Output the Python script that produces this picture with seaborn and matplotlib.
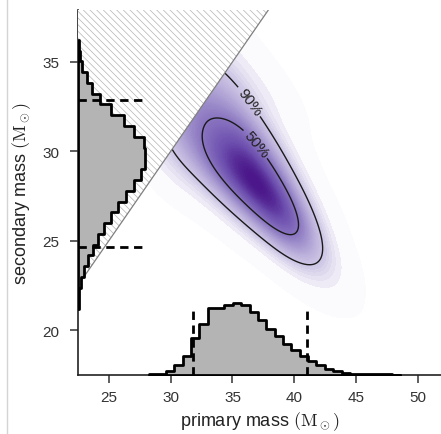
import numpy as np
import pandas as pd
import matplotlib
matplotlib.use("Agg")
import matplotlib.pyplot as plt
from matplotlib.patches import Polygon
from matplotlib.lines import Line2D
from matplotlib.contour import ContourSet
from matplotlib.colors import LinearSegmentedColormap
import seaborn as sns

# ---------------------------------------------------------------------------
# Joint posterior of the component masses: relative probability on a 1 Msun grid
# (rows run from high to low secondary mass)
m1_grid = [29, 30, 31, 32, 33, 34, 35, 36, 37, 38, 39, 40, 41, 42, 43]
m2_grid = [35, 34, 33, 32, 31, 30, 29, 28, 27, 26, 25, 24, 23]
joint_weight = [
    [0, 0, 0, 0, 0, 0, 2, 2, 1, 0, 0, 0, 0, 0, 0],
    [0, 0, 0, 0, 0, 7, 11, 6, 2, 1, 0, 0, 0, 0, 0],
    [0, 0, 0, 0, 13, 28, 23, 13, 5, 3, 1, 0, 0, 0, 0],
    [0, 0, 0, 15, 42, 47, 42, 28, 12, 3, 1, 0, 0, 0, 0],
    [0, 0, 13, 40, 55, 64, 65, 55, 32, 11, 2, 0, 0, 0, 0],
    [0, 6, 22, 37, 56, 74, 85, 85, 65, 31, 8, 1, 0, 0, 0],
    [1, 5, 8, 17, 38, 67, 90, 99, 93, 65, 26, 5, 0, 0, 0],
    [0, 0, 1, 4, 11, 30, 62, 90, 100, 94, 61, 20, 2, 0, 0],
    [0, 0, 0, 0, 1, 5, 18, 45, 80, 97, 89, 52, 11, 1, 0],
    [0, 0, 0, 0, 0, 0, 1, 7, 26, 60, 81, 69, 31, 3, 0],
    [0, 0, 0, 0, 0, 0, 0, 0, 1, 9, 31, 44, 33, 10, 1],
    [0, 0, 0, 0, 0, 0, 0, 0, 0, 0, 2, 8, 13, 8, 3],
    [0, 0, 0, 0, 0, 0, 0, 0, 0, 0, 0, 0, 1, 2, 2],
]
credible_mass = [0.9, 0.5]

# Marginal histogram of the primary mass
m1_bin_edges = [28.27, 28.95, 29.62, 30.30, 30.97, 31.65, 32.33, 33.00, 33.68,
                34.35, 35.03, 35.71, 36.38, 37.06, 37.73, 38.41, 39.09, 39.76,
                40.44, 41.11, 41.79, 42.47, 43.14, 43.82, 44.49, 45.17, 45.85,
                46.52, 47.20, 47.87, 48.55]
m1_counts = [3, 7, 33, 100, 190, 367, 507, 667, 670, 700, 713, 700, 627, 550,
             460, 383, 307, 250, 183, 133, 93, 60, 33, 15, 12, 8, 6, 4, 3, 2]

# Marginal histogram of the secondary mass
m2_bin_edges = [21.16, 21.76, 22.37, 22.97, 23.57, 24.18, 24.78, 25.38, 25.98,
                26.59, 27.19, 27.79, 28.40, 29.00, 29.60, 30.21, 30.81, 31.41,
                32.01, 32.62, 33.22, 33.82, 34.43, 35.03, 35.63, 36.24]
m2_counts = [5, 10, 25, 55, 102, 147, 202, 263, 330, 397, 475, 558, 630, 667,
             673, 655, 563, 455, 333, 220, 138, 88, 42, 23, 7]

# 90% credible bounds of each mass
m1_interval = [31.8, 41.05]
m2_interval = [24.63, 32.87]

x_ticks = [25, 30, 35, 40, 45, 50]
y_ticks = [20, 25, 30, 35]
x_range = (22.5, 51.95)
y_range = (17.5, 37.9)

# ---------------------------------------------------------------------------
sns.set_style("ticks")
plt.rcParams["font.family"] = ["Liberation Sans", "DejaVu Sans"]
plt.rcParams["mathtext.fontset"] = "cm"
plt.rcParams["hatch.linewidth"] = 0.5

violet = LinearSegmentedColormap.from_list(
    "violet", [(0.0, "#ffffff"), (0.03, "#efecf6"), (0.1, "#d3cce8"),
               (0.5, "#8e7bc2"), (0.8, "#6b4cad"), (1.0, "#4a1689")])

fig = plt.figure(figsize=(4.41, 4.35), dpi=100)
rect = [78 / 441, 59.2 / 435, 364 / 441, 364.8 / 435]
ax = fig.add_axes(rect)

gx, gy = np.meshgrid(m1_grid, m2_grid)
post = pd.DataFrame({"m1": gx.ravel(), "m2": gy.ravel(),
                     "w": np.asarray(joint_weight, dtype=float).ravel()})
post = post[post["w"] > 0]
# reflect the cells next to the m1 = m2 edge so the smoothed density keeps
# its strength right up to the boundary instead of fading before it
edge = post[(post["m1"] - post["m2"]) <= 2]
mirror = edge.rename(columns={"m1": "m2", "m2": "m1"})
post_kde = pd.concat([post, mirror], ignore_index=True)

kde_kw = dict(data=post_kde, x="m1", y="m2", weights="w", bw_method=0.4,
              gridsize=240, cut=4, ax=ax)
sns.kdeplot(fill=True, levels=70, thresh=0.0003, cmap=violet, **kde_kw)
sns.kdeplot(levels=sorted(1 - m for m in credible_mass), color="#1a1a1a",
            linewidths=1.0, **kde_kw)
ax.set_xlim(*x_range)
ax.set_ylim(*y_range)

# label each credible contour at the point of it closest to the chosen spot
cs = [c for c in ax.collections if isinstance(c, ContourSet)][-1]
label_spots = {0.9: (36.4, 32.8), 0.5: (37.1, 30.5)}
fmt, spots = {}, []
for i, m in enumerate(sorted(credible_mass, reverse=True)):
    fmt[cs.levels[i]] = f"{round(m * 100)}%"
    verts = cs.get_paths()[i].vertices
    disp = ax.transData.transform(verts)
    goal = ax.transData.transform(np.array([label_spots[m]]))
    spots.append(tuple(verts[np.argmin(((disp - goal) ** 2).sum(axis=1))]))
ax.clabel(cs, fmt=fmt, manual=spots, inline=True, inline_spacing=3,
          fontsize=11, colors="#222222")

# region with m2 > m1 is excluded by convention
x0, y1 = x_range[0], y_range[1]
ax.add_patch(Polygon([(x0, x0), (y1, y1), (x0, y1)], closed=True,
                     facecolor="white", edgecolor="#b4b4b4",
                     hatch="\\" * 5, linewidth=0, zorder=3))
ax.plot([x0, y1], [x0, y1], color="#7f7f7f", lw=0.9, zorder=3.2)

# marginal of m1 along the bottom (overlay axes with its own count scale)
ax_b = fig.add_axes(rect, label="m1 marginal")
m1_centers = 0.5 * (np.array(m1_bin_edges[:-1]) + np.array(m1_bin_edges[1:]))
sns.histplot(x=m1_centers, weights=m1_counts, bins=m1_bin_edges,
             element="step", fill=True, facecolor="#b4b4b4",
             edgecolor="black", linewidth=2.0, alpha=1, ax=ax_b)
ax_b.vlines(m1_interval, 0, 0.93 * max(m1_counts), colors="black",
            linestyles=(0, (3, 2)), linewidth=2.0)
ax_b.set_xlim(*x_range)
ax_b.set_ylim(0, max(m1_counts) / 0.1955)
ax_b.set_axis_off()

# marginal of m2 along the left side
ax_l = fig.add_axes(rect, label="m2 marginal")
m2_centers = 0.5 * (np.array(m2_bin_edges[:-1]) + np.array(m2_bin_edges[1:]))
sns.histplot(y=m2_centers, weights=m2_counts, bins=m2_bin_edges,
             element="step", fill=True, facecolor="#b4b4b4",
             edgecolor="black", linewidth=2.0, alpha=1, ax=ax_l)
ax_l.hlines(m2_interval, 0, 0.98 * max(m2_counts), colors="black",
            linestyles=(0, (3, 2)), linewidth=2.0)
ax_l.set_ylim(*y_range)
ax_l.set_xlim(0, max(m2_counts) / 0.185)
ax_l.set_axis_off()

ax.set_xticks(x_ticks)
ax.set_yticks(y_ticks)
for side in ("top", "right"):
    ax.spines[side].set_visible(False)
for side in ("left", "bottom"):
    ax.spines[side].set_linewidth(1.2)
    ax.spines[side].set_color("#222222")
ax.tick_params(axis="both", direction="out", length=5.5, width=1.1,
               color="#333333", labelsize=11, labelcolor="#333333")
ax.tick_params(axis="x", pad=5.5)
ax.tick_params(axis="y", pad=8)

ax.set_xlabel("primary mass $(\\mathrm{M}_\\odot)$", fontsize=13, color="#222222")
ax.set_ylabel("secondary mass $(\\mathrm{M}_\\odot)$", fontsize=13, color="#222222")
ax.xaxis.set_label_coords(0.5, -0.094)
ax.yaxis.set_label_coords(-0.124, 0.5)

fig.add_artist(Line2D([7 / 441, 7 / 441], [0, 1], transform=fig.transFigure,
                      color="#d4d4d4", lw=1))

fig.savefig("out.png", dpi=100)
